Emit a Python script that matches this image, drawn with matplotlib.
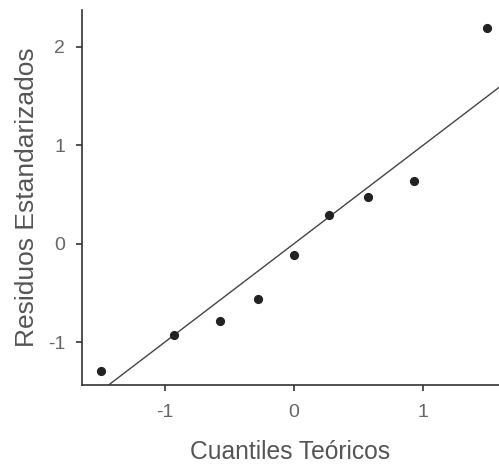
import numpy as np
from matplotlib import pyplot as plt

# cuantiles teoricos (qqnorm, n=9) y residuos estandarizados
cuantiles = [-1.494, -0.932, -0.572, -0.275, 0.0, 0.275, 0.572, 0.932, 1.494]
residuos = [-1.29, -0.93, -0.79, -0.56, -0.11, 0.29, 0.47, 0.64, 2.19]
x_ticks = [-1, 0, 1]
y_ticks = [-1, 0, 1, 2]

plt.rcParams["font.family"] = ["Liberation Sans", "DejaVu Sans"]

fig = plt.figure(figsize=(4.99, 4.66), dpi=100)
ax = fig.add_axes([0.1643, 0.1738, 0.8357, 0.8047])

ax.plot(cuantiles, residuos, "o", color="#222222", ms=5.6, zorder=3)
ax.axline((0, 0), slope=1, color="#444444", lw=1.0)

ax.set_xlim(-1.643, 1.589)
ax.set_ylim(-1.437, 2.376)
ax.set_xticks(x_ticks)
ax.set_yticks(y_ticks)
ax.set_xticklabels([str(v) for v in x_ticks])
ax.set_yticklabels([str(v) for v in y_ticks])

for side in ["top", "right"]:
    ax.spines[side].set_visible(False)
for side in ["left", "bottom"]:
    ax.spines[side].set_color("#333333")
    ax.spines[side].set_linewidth(1.2)

ax.tick_params(axis="both", length=4.5, width=1.2, color="#333333",
               labelcolor="#666666", labelsize=14)
ax.tick_params(axis="x", pad=9.5)
ax.tick_params(axis="y", pad=7.5)
ax.set_xlabel("Cuantiles Teóricos", fontsize=17.7, color="#555555", labelpad=13)
ax.set_ylabel("Residuos Estandarizados", fontsize=19, color="#555555", labelpad=6.5)

fig.savefig("out.png", dpi=100)
plt.close(fig)
